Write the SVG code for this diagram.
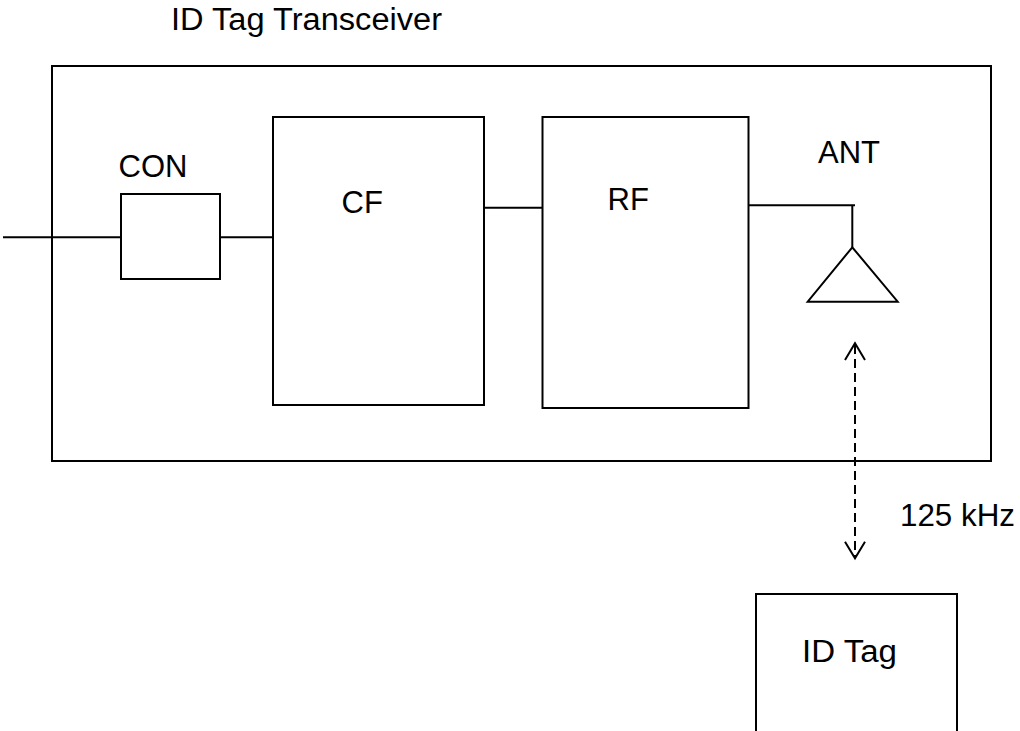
<svg xmlns="http://www.w3.org/2000/svg" width="1020" height="731" viewBox="0 0 1020 731">
<style>
.b{fill:none;stroke:#000;stroke-width:2}
.l{fill:none;stroke:#000;stroke-width:2}
.t{font-family:"Liberation Sans",Arial,sans-serif;font-size:31px;fill:#000}
.d{fill:none;stroke:#000;stroke-width:2;stroke-dasharray:9 5}
</style>
<rect width="1020" height="731" fill="#fff"/>
<text class="t" x="171" y="30" textLength="271" lengthAdjust="spacingAndGlyphs">ID Tag Transceiver</text>
<g id="transceiver"><rect class="b" x="52" y="66" width="939" height="395"/></g>
<g id="con"><rect class="b" x="121" y="194" width="99" height="85"/><text class="t" x="118.5" y="177">CON</text></g>
<g id="cf"><rect class="b" x="273" y="117" width="211" height="288"/><text class="t" x="341.5" y="213">CF</text></g>
<g id="rf"><rect class="b" x="542.5" y="117" width="206" height="291"/><text class="t" x="607.5" y="210">RF</text></g>
<g id="ant"><path class="l" d="M852.3 205 V247.3"/><polygon class="l" points="852.3,247.3 807.7,301.7 897.7,301.7"/><text class="t" x="818" y="163">ANT</text></g>
<g id="idtag"><rect class="b" x="756" y="594" width="201" height="150"/><text class="t" x="802" y="662" textLength="95" lengthAdjust="spacingAndGlyphs">ID Tag</text></g>
<g id="connectors">
<path class="l" d="M3 237.3 H121"/>
<path class="l" d="M220 237.3 H273"/>
<path class="l" d="M484 207.7 H542.5"/>
<path class="l" d="M748.5 205.3 H855"/>
<path class="d" d="M855 345 V557"/>
<path class="l" d="M845 360 L855 343.3 L865 360"/>
<path class="l" d="M845 541.7 L855 558.3 L865 541.7"/>
<text class="t" x="900" y="526" textLength="115" lengthAdjust="spacingAndGlyphs">125 kHz</text>
</g>
</svg>
